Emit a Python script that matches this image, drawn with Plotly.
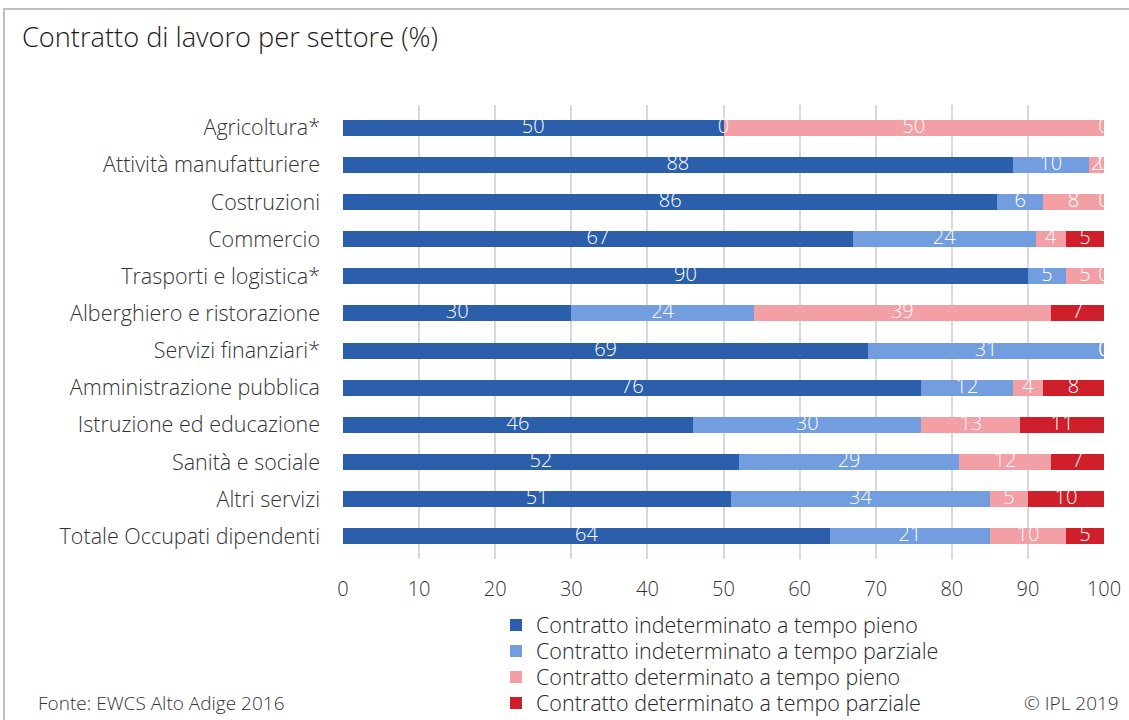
import plotly.graph_objects as go

categories = ["Agricoltura*", "Attività manufatturiere", "Costruzioni", "Commercio",
              "Trasporti e logistica*", "Alberghiero e ristorazione", "Servizi finanziari*",
              "Amministrazione pubblica", "Istruzione ed educazione", "Sanità e sociale",
              "Altri servizi", "Totale Occupati dipendenti"]
series_names = ["Contratto indeterminato a tempo pieno",
                "Contratto indeterminato a tempo parziale",
                "Contratto determinato a tempo pieno",
                "Contratto determinato a tempo parziale"]
indet_pieno = [50, 88, 86, 67, 90, 30, 69, 76, 46, 52, 51, 64]
indet_parziale = [0, 10, 6, 24, 5, 24, 31, 12, 30, 29, 34, 21]
det_pieno = [50, 2, 8, 4, 5, 39, 0, 4, 13, 12, 5, 10]
det_parziale = [0, 0, 0, 5, 0, 7, 0, 8, 11, 7, 10, 5]
colors = ["#2B5EAB", "#729DDE", "#F2A0A6", "#CE1F2A"]
x_ticks = [0, 10, 20, 30, 40, 50, 60, 70, 80, 90, 100]

series = [indet_pieno, indet_parziale, det_pieno, det_parziale]
FONT = "Open Sans"
W_LIGHT = 300

plot_l, plot_r, plot_t, plot_b = 343, 1104, 105, 559
W, H = 1129, 720
pw, ph = plot_r - plot_l, plot_b - plot_t

def px(x):
    return (x - plot_l) / pw

def py(y):
    return (plot_b - y) / ph

legend_ids = ["legend", "legend2", "legend3", "legend4"]
legend_rows = [625, 651, 677, 703]

fig = go.Figure()
for name, vals, col, lid in zip(series_names, series, colors, legend_ids):
    fig.add_trace(go.Bar(y=categories, x=vals, name=name, orientation="h",
                         marker=dict(color=col, line=dict(width=0)),
                         legend=lid, hoverinfo="x+name"))

# data labels at the centre of each segment (including zero-width ones)
cum = [0] * len(categories)
for i, vals in enumerate(series):
    centers = [c + v / 2 for c, v in zip(cum, vals)]
    fig.add_trace(go.Scatter(x=centers, y=categories, mode="text",
                             text=[str(v) for v in vals],
                             textfont=dict(family=FONT, size=20, color="white", weight=W_LIGHT),
                             textposition="middle center", showlegend=False,
                             hoverinfo="skip", cliponaxis=True))
    cum = [c + v for c, v in zip(cum, vals)]

legend_style = dict(orientation="v", x=px(496), xanchor="left", yanchor="middle",
                    font=dict(family=FONT, size=21.5, color="#262626", weight=W_LIGHT),
                    itemwidth=30, bgcolor="rgba(0,0,0,0)")
legends = {lid: dict(legend_style, y=py(row)) for lid, row in zip(legend_ids, legend_rows)}

fig.update_layout(
    width=W, height=H,
    margin=dict(l=plot_l, r=W - plot_r, t=plot_t, b=H - plot_b, pad=0, autoexpand=False),
    barmode="stack", bargap=0.57,
    plot_bgcolor="white", paper_bgcolor="white",
    font=dict(family=FONT, size=20, color="#262626", weight=W_LIGHT),
    title=dict(text="Contratto di lavoro per settore (%)", x=22 / W, xanchor="left",
               y=1 - 37 / H, yanchor="middle", xref="container", yref="container",
               font=dict(family=FONT, size=27.2, color="#1a1a1a", weight=W_LIGHT)),
    xaxis=dict(range=[0, 100], tickvals=x_ticks, showgrid=True, gridcolor="#D9D9D9",
               gridwidth=2, zeroline=False, showline=False, ticks="", automargin=False,
               tickfont=dict(family=FONT, size=20, color="#333333", weight=W_LIGHT),
               ticklabelstandoff=16),
    yaxis=dict(autorange="reversed", showgrid=False, zeroline=False, showline=False,
               ticks="", ticklabelstandoff=22, automargin=False,
               tickfont=dict(family=FONT, size=21.5, color="#333333", weight=W_LIGHT)),
    showlegend=True,
    shapes=[dict(type="rect", xref="paper", yref="paper",
                 x0=px(4), x1=px(1135), y0=py(9), y1=py(730),
                 line=dict(color="#BFBFBF", width=2), fillcolor="rgba(0,0,0,0)", layer="below")],
    annotations=[
        dict(text="Fonte: EWCS Alto Adige 2016", xref="paper", yref="paper",
             x=px(36), y=py(703), xanchor="left", yanchor="middle", showarrow=False,
             font=dict(family=FONT, size=19, color="#333333", weight=W_LIGHT)),
        dict(text="© IPL 2019", xref="paper", yref="paper",
             x=px(1121), y=py(703), xanchor="right", yanchor="middle", showarrow=False,
             font=dict(family=FONT, size=19, color="#333333", weight=W_LIGHT)),
    ],
    **legends,
)

fig.write_html("out.html")
